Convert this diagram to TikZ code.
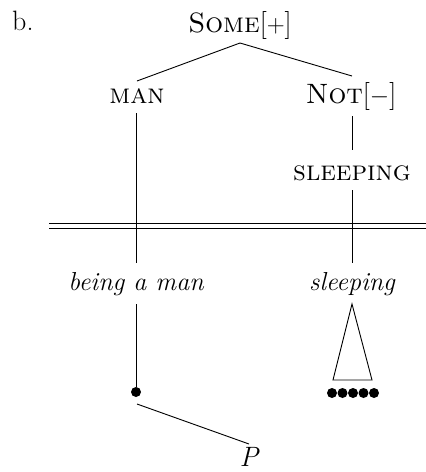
\documentclass[tikz,border=0pt]{standalone}
\begin{document}
\begin{tikzpicture}[x=1pt,y=-1pt,
  lbl/.style={inner sep=0pt,anchor=base,font=\fontsize{28}{32}\selectfont},
  ital/.style={lbl,font=\fontsize{26}{30}\selectfont\itshape},
  edge/.style={line width=0.9pt},
  dotf/.style={circle,fill=black,inner sep=0pt,minimum size=10pt}]
\useasboundingbox (0,0) rectangle (426,472);
\node[lbl,anchor=base west] (b) at (12,30) {b.};
\node[lbl] (some) at (240,32) {\textsc{Some}[$+$]};
\node[lbl] (man) at (137,103) {\textsc{man}};
\node[lbl] (not) at (351,103) {\textsc{Not}[$-$]};
\node[lbl] (sl) at (352,180) {\textsc{sleeping}};
\node[ital] (bam) at (136,290) {being a man};
\node[ital] (sli) at (352,290) {sleeping};
\node[lbl,font=\fontsize{28}{32}\selectfont\itshape] (p) at (249,466) {P};
\node[dotf] (d0) at (136,392) {};
\foreach \i/\x in {1/332,2/342.5,3/353,4/363.5,5/374}
  \node[dotf] (s\i) at (\x,393) {};
\coordinate (sometop) at (240,43);
\coordinate (manl) at (137,81);
\coordinate (notl) at (352,76);
\draw[edge] (sometop) -- (manl);
\draw[edge] (sometop) -- (notl);
\coordinate (mantop) at (136,113);
\coordinate (manbot) at (136,263);
\draw[edge] (mantop) -- (manbot);
\coordinate (nottop) at (352,116);
\coordinate (notbot) at (352,150);
\draw[edge] (nottop) -- (notbot);
\coordinate (sltop) at (352,190);
\coordinate (slbot) at (352,263);
\draw[edge] (sltop) -- (slbot);
\coordinate (dl1) at (49,223);
\coordinate (dr1) at (426,223);
\coordinate (dl2) at (49,228);
\coordinate (dr2) at (426,228);
\draw[edge] (dl1) -- (dr1);
\draw[edge] (dl2) -- (dr2);
\coordinate (bamb) at (136,304);
\draw[edge] (bamb) -- (d0);
\coordinate (apex) at (352,304);
\coordinate (tl) at (333,380);
\coordinate (tr) at (372,380);
\draw[edge] (apex) -- (tl) -- (tr) -- cycle;
\coordinate (pl) at (137,404);
\coordinate (pr) at (249,444);
\draw[edge] (pl) -- (pr);
\end{tikzpicture}
\end{document}
